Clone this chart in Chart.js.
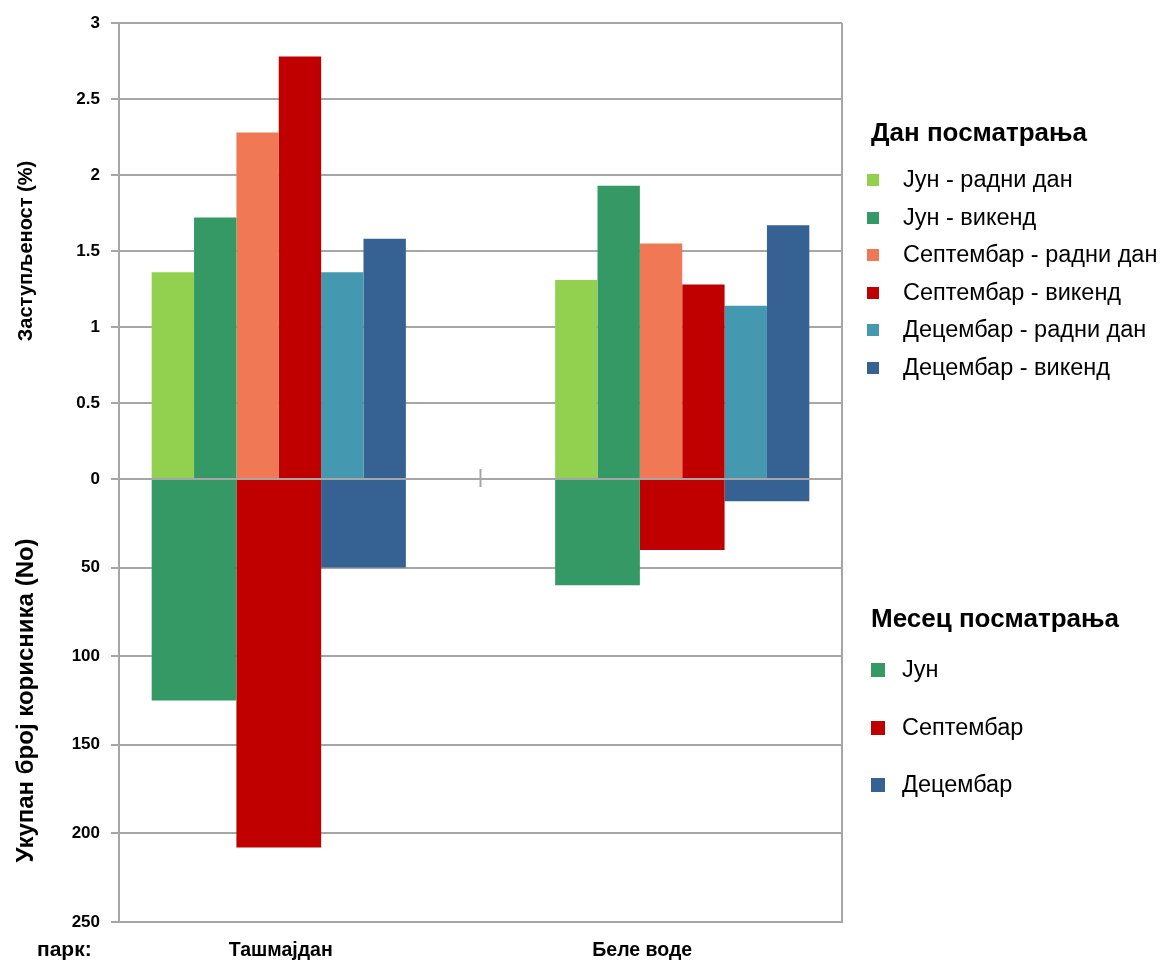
<!DOCTYPE html>
<html>
<head>
<meta charset="utf-8">
<script src="https://cdn.jsdelivr.net/npm/chart.js@4.4.1/dist/chart.umd.min.js"></script>
<style>
  html, body { margin: 0; padding: 0; background: #ffffff; }
  #wrap { position: relative; width: 1166px; height: 967px; overflow: hidden; }
  #cTop { position: absolute; left: 0; top: 0; }
  #cBottom { position: absolute; left: 0; top: 460px; }
  .lg { position: absolute; left: 0; top: 0; font-family: "Liberation Sans", Arial, sans-serif; color: #000; }
  .lg-title { position: absolute; font-weight: bold; font-size: 26px; white-space: nowrap; transform: translateY(-50%); }
  .lg-item { position: absolute; white-space: nowrap; font-size: 23.5px; line-height: 1; transform: translateY(-50%); }
</style>
</head>
<body>
<div id="wrap">
  <canvas id="cTop" width="1166" height="500"></canvas>
  <canvas id="cBottom" width="1166" height="507"></canvas>
  <div id="legend1" class="lg"></div>
  <div id="legend2" class="lg"></div>
</div>
<script>
// ---------- data ----------
const categories = ['Ташмајдан', 'Беле воде'];

const daySeriesNames = [
  'Јун - радни дан',
  'Јун - викенд',
  'Септембар - радни дан',
  'Септембар - викенд',
  'Децембар - радни дан',
  'Децембар - викенд'
];
const junRadni  = [1.36, 1.31];
const junVikend = [1.72, 1.93];
const sepRadni  = [2.28, 1.55];
const sepVikend = [2.78, 1.28];
const decRadni  = [1.36, 1.14];
const decVikend = [1.58, 1.67];

const monthSeriesNames = ['Јун', 'Септембар', 'Децембар'];
const usersJun = [125, 60];
const usersSep = [208, 40];
const usersDec = [50, 12.5];

const pctTitle = 'Заступљеност (%)';
const usersTitle = 'Укупан број корисника (No)';
const legend1Title = 'Дан посматрања';
const legend2Title = 'Месец посматрања';
const parkLabel = 'парк:';

// ---------- styles ----------
const dayColors = ['#92d050', '#359966', '#f07855', '#c00000', '#4499b0', '#356193'];
const monthColors = ['#359966', '#c00000', '#356193'];
const GRID = '#a6a6a6';
const FONT = '"Liberation Sans", Arial, sans-serif';
const tickFont = { family: FONT, size: 17, weight: 'bold' };

const toPoints = arr => arr.map((v, i) => ({ x: i, y: v }));
const catTicks = s => { s.ticks = categories.map((c, i) => ({ value: i })); };
const fixY = s => { s.width = 119; s.paddingTop = 0; s.paddingBottom = 0; };

function makeDatasets(seriesList, names, colors) {
  return seriesList.map((vals, k) => ({
    label: names[k],
    data: toPoints(vals),
    backgroundColor: colors[k],
    borderWidth: 0,
    xAxisID: 'xb',
    yAxisID: 'y',
    barPercentage: 1.0,
    categoryPercentage: 0.63
  }));
}

// hidden linear index axis carrying the bars (groups sit at the category positions 0 and 1)
const barIndexAxis = {
  type: 'linear', display: false, min: -0.396, max: 1.396, offset: false,
  grid: { offset: false }, afterBuildTicks: catTicks
};

const categoryGrid = {
  offset: true,
  drawTicks: false,
  lineWidth: 2,
  color: ctx => (ctx.index === 1 ? 'rgba(0,0,0,0)' : GRID)
};

// ---------- top chart: share (%) ----------
new Chart(document.getElementById('cTop'), {
  type: 'bar',
  data: { datasets: makeDatasets([junRadni, junVikend, sepRadni, sepVikend, decRadni, decVikend], daySeriesNames, dayColors) },
  options: {
    responsive: false,
    animation: false,
    devicePixelRatio: 1,
    layout: { padding: { left: 0, right: 324, top: 23, bottom: 21 } },
    plugins: { legend: { display: false }, tooltip: { enabled: false } },
    scales: {
      x: {
        type: 'category', labels: categories, position: 'bottom', offset: true,
        grid: categoryGrid,
        border: { display: false },
        ticks: { display: false },
        afterFit: s => { s.height = 0; s.paddingLeft = 0; s.paddingRight = 0; }
      },
      xb: barIndexAxis,
      y: {
        type: 'linear', position: 'left', min: 0, max: 3,
        ticks: { stepSize: 0.5, font: tickFont, color: '#000', padding: 11, callback: v => String(v) },
        grid: { color: GRID, lineWidth: 2, tickLength: 8 },
        border: { display: true, color: GRID, width: 2 },
        title: { display: true, text: pctTitle, font: { family: FONT, size: 20, weight: 'bold' }, color: '#000', padding: { top: 14, bottom: 0 } },
        afterFit: fixY
      }
    }
  }
});

// ---------- bottom chart: users (No) ----------
const extras = {
  id: 'extras',
  afterDraw(chart) {
    const ctx = chart.ctx;
    const xs = chart.scales.x;
    const ys = chart.scales.y;
    const mid = (xs.getPixelForTick(0) + xs.getPixelForTick(1)) / 2;
    const y0 = ys.getPixelForValue(0);
    ctx.save();
    ctx.strokeStyle = GRID;
    ctx.lineWidth = 2;
    ctx.beginPath();
    ctx.moveTo(mid, y0 - 10);
    ctx.lineTo(mid, y0 + 8);
    ctx.stroke();
    ctx.fillStyle = '#000';
    ctx.font = 'bold 21px ' + FONT;
    ctx.textAlign = 'left';
    ctx.textBaseline = 'middle';
    ctx.fillText(parkLabel, 37, xs.top + 28);
    ctx.restore();
  }
};

new Chart(document.getElementById('cBottom'), {
  type: 'bar',
  data: { datasets: makeDatasets([usersJun, usersSep, usersDec], monthSeriesNames, monthColors) },
  options: {
    responsive: false,
    animation: false,
    devicePixelRatio: 1,
    layout: { padding: { left: 0, right: 324, top: 19, bottom: 0 } },
    plugins: { legend: { display: false }, tooltip: { enabled: false } },
    scales: {
      x: {
        type: 'category', labels: categories, position: 'bottom', offset: true,
        grid: categoryGrid,
        border: { display: true, color: GRID, width: 2 },
        ticks: { font: { family: FONT, size: 19.5, weight: 'bold' }, color: '#000', padding: 17, labelOffset: -19, maxRotation: 0 },
        afterFit: s => { s.height = 45; s.paddingLeft = 0; s.paddingRight = 0; }
      },
      xb: barIndexAxis,
      y: {
        type: 'linear', position: 'left', min: 0, max: 250, reverse: true,
        ticks: {
          stepSize: 50, font: tickFont, color: '#000', padding: 11,
          callback: v => (v === 0 ? '' : String(v))
        },
        grid: { color: GRID, lineWidth: 2, tickLength: 8 },
        border: { display: true, color: GRID, width: 2 },
        title: { display: true, text: usersTitle, font: { family: FONT, size: 24, weight: 'bold' }, color: '#000', padding: { top: 12, bottom: 0 } },
        afterFit: fixY
      }
    }
  },
  plugins: [extras]
});

// ---------- legends (HTML text) ----------
function buildLegend(el, title, titleX, titleY, names, colors, swSize, swX, textX, rowYs) {
  const t = document.createElement('div');
  t.className = 'lg-title';
  t.style.left = titleX + 'px';
  t.style.top = titleY + 'px';
  t.textContent = title;
  el.appendChild(t);
  names.forEach((n, i) => {
    const sw = document.createElement('div');
    sw.style.position = 'absolute';
    sw.style.left = swX + 'px';
    sw.style.top = (rowYs[i] - swSize / 2) + 'px';
    sw.style.width = swSize + 'px';
    sw.style.height = swSize + 'px';
    sw.style.background = colors[i];
    el.appendChild(sw);
    const it = document.createElement('div');
    it.className = 'lg-item';
    it.style.left = textX + 'px';
    it.style.top = rowYs[i] + 'px';
    it.textContent = n;
    el.appendChild(it);
  });
}
const legend1Rows = [180, 217.5, 255, 292.5, 330, 367.5];
const legend2Rows = [670, 728, 785];
buildLegend(document.getElementById('legend1'), legend1Title, 871, 132,
  daySeriesNames, dayColors, 12, 867, 903, legend1Rows);
buildLegend(document.getElementById('legend2'), legend2Title, 871, 618,
  monthSeriesNames, monthColors, 14, 871, 902, legend2Rows);
</script>
</body>
</html>
